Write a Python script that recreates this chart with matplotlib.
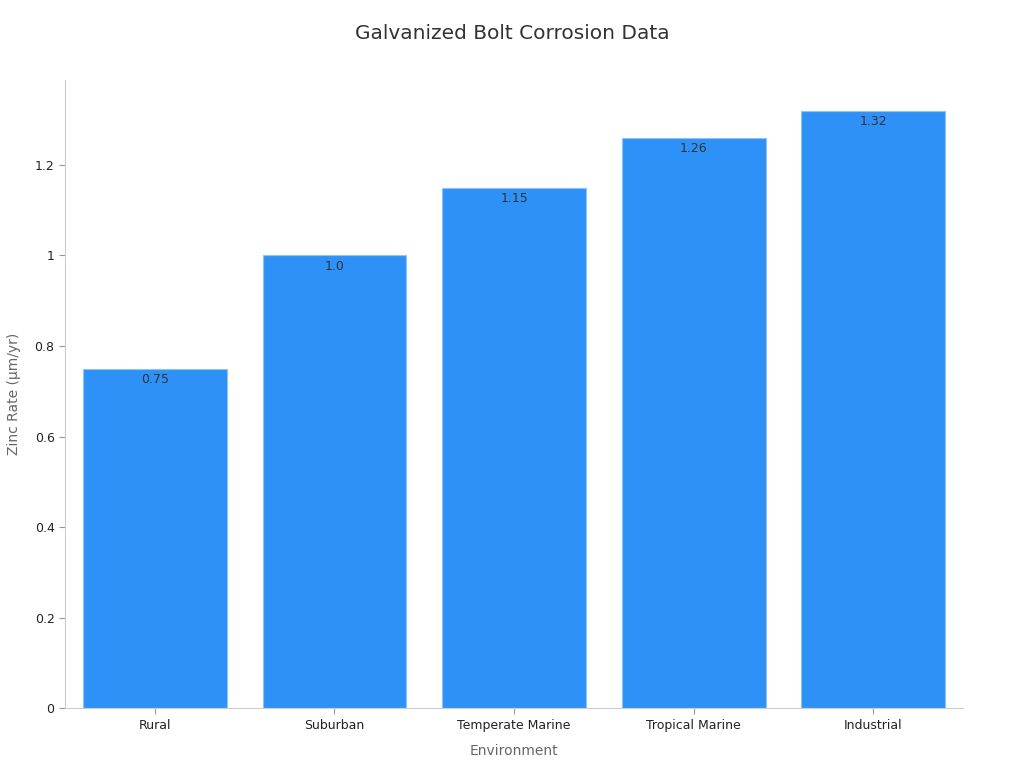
import matplotlib.pyplot as plt
from matplotlib.ticker import FuncFormatter

# data
environments = ["Rural", "Suburban", "Temperate Marine", "Tropical Marine", "Industrial"]
zinc_rates = [0.75, 1.0, 1.15, 1.26, 1.32]
bar_labels = ["0.75", "1.0", "1.15", "1.26", "1.32"]

fig = plt.figure(figsize=(10.24, 7.68), dpi=100)
ax = fig.add_axes([0.0635, 0.078, 0.877, 0.818])

x = list(range(len(environments)))
bars = ax.bar(x, zinc_rates, width=0.8, color="#2e91f8", edgecolor="#8cc4f5", linewidth=0.8)

for b, lab in zip(bars, bar_labels):
    ax.text(b.get_x() + b.get_width() / 2, b.get_height() - 0.01, lab,
            ha="center", va="top", fontsize=9, color="#333333")

ax.set_xlim(-0.5, 4.5)
ax.set_ylim(0, 1.388)
ax.set_xticks(x)
ax.set_xticklabels(environments)
ax.set_yticks([0, 0.2, 0.4, 0.6, 0.8, 1.0, 1.2])
ax.yaxis.set_major_formatter(FuncFormatter(lambda v, p: f"{v:g}"))
ax.tick_params(axis="both", labelsize=9, colors="#222222", length=4)
ax.tick_params(axis="both", color="#999999")

for side in ["top", "right"]:
    ax.spines[side].set_visible(False)
for side in ["left", "bottom"]:
    ax.spines[side].set_color("#cccccc")

ax.set_xlabel("Environment", fontsize=10, color="#666666", labelpad=9)
ax.set_ylabel("Zinc Rate (μm/yr)", fontsize=10, color="#666666", labelpad=10)
fig.text(0.5, 0.957, "Galvanized Bolt Corrosion Data", ha="center", va="center",
         fontsize=14.5, color="#333333")

fig.savefig("out.png", dpi=100)
